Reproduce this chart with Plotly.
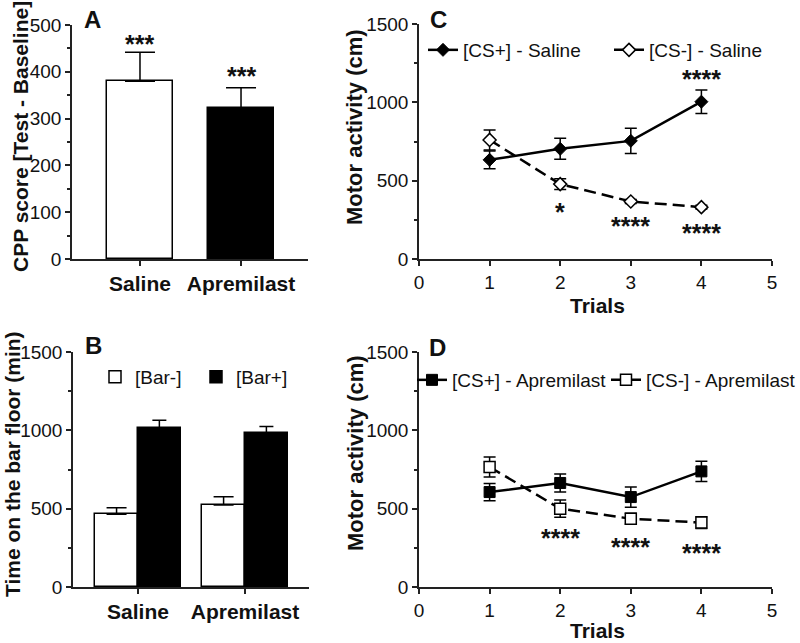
import plotly.graph_objects as go

# ---------------- data ----------------
groups = ["Saline", "Apremilast"]
cpp_mean = [380, 322]
cpp_sem = [62, 44]

bar_minus_mean = [465, 523]
bar_minus_sem = [41, 53]
bar_plus_mean = [1013, 981]
bar_plus_sem = [52, 43]

trials = [1, 2, 3, 4]
cs_plus_saline = [633, 703, 754, 1004]
cs_plus_saline_sem = [57, 67, 81, 75]
cs_minus_saline = [760, 478, 367, 331]
cs_minus_saline_sem = [64, 35, 12, 12]

cs_plus_apr = [606, 664, 574, 738]
cs_plus_apr_sem = [55, 58, 65, 65]
cs_minus_apr = [766, 500, 436, 411]
cs_minus_apr_sem = [64, 55, 34, 37]

W, H = 800, 643
FONT = "Liberation Sans, Arial, sans-serif"
INK = "#111111"
AX = "#222222"


def px(x):
    return x / W


def py(y):
    return 1 - y / H


fig = go.Figure()
gidx = list(range(len(groups)))

# ---------------- Panel A ----------------
fig.add_trace(go.Bar(
    x=gidx, y=cpp_mean, width=0.66,
    marker=dict(color=["white", "black"], line=dict(color="black", width=1.5)),
    error_y=dict(type="data", symmetric=False, array=cpp_sem, arrayminus=[0, 0],
                 color="black", thickness=1.5, width=15),
    showlegend=False, xaxis="x", yaxis="y"))

# ---------------- Panel B ----------------
fig.add_trace(go.Bar(
    x=gidx, y=bar_minus_mean, width=0.4, offset=-0.4, name="[Bar-]",
    marker=dict(color="white", line=dict(color="black", width=1.5)),
    error_y=dict(type="data", symmetric=False, array=bar_minus_sem, arrayminus=[0, 0],
                 color="black", thickness=1.5, width=10),
    legend="legend", xaxis="x2", yaxis="y2"))
fig.add_trace(go.Bar(
    x=gidx, y=bar_plus_mean, width=0.4, offset=0, name="[Bar+]",
    marker=dict(color="black", line=dict(color="black", width=1.5)),
    error_y=dict(type="data", symmetric=False, array=bar_plus_sem, arrayminus=[0, 0],
                 color="black", thickness=1.5, width=7),
    legend="legend2", xaxis="x2", yaxis="y2"))

# ---------------- Panel C ----------------
fig.add_trace(go.Scatter(
    x=trials, y=cs_minus_saline, mode="lines+markers", name="[CS-] - Saline",
    line=dict(color="black", width=2.5, dash="12px,6px"),
    marker=dict(symbol="diamond", size=10, color="white", line=dict(color="black", width=1.5)),
    error_y=dict(type="data", array=cs_minus_saline_sem, color="black", thickness=1.5, width=6),
    legend="legend4", xaxis="x3", yaxis="y3"))
fig.add_trace(go.Scatter(
    x=trials, y=cs_plus_saline, mode="lines+markers", name="[CS+] - Saline",
    line=dict(color="black", width=2.5),
    marker=dict(symbol="diamond", size=10, color="black", line=dict(color="black", width=1)),
    error_y=dict(type="data", array=cs_plus_saline_sem, color="black", thickness=1.5, width=6),
    legend="legend3", xaxis="x3", yaxis="y3"))

# ---------------- Panel D ----------------
fig.add_trace(go.Scatter(
    x=trials, y=cs_minus_apr, mode="lines+markers", name="[CS-] - Apremilast",
    line=dict(color="black", width=2.5, dash="12px,6px"),
    marker=dict(symbol="square", size=11, color="white", line=dict(color="black", width=1.5)),
    error_y=dict(type="data", array=cs_minus_apr_sem, color="black", thickness=1.5, width=6),
    legend="legend6", xaxis="x4", yaxis="y4"))
fig.add_trace(go.Scatter(
    x=trials, y=cs_plus_apr, mode="lines+markers", name="[CS+] - Apremilast",
    line=dict(color="black", width=2.5),
    marker=dict(symbol="square", size=11, color="black", line=dict(color="black", width=1)),
    error_y=dict(type="data", array=cs_plus_apr_sem, color="black", thickness=1.5, width=6),
    legend="legend5", xaxis="x4", yaxis="y4"))

# ---------------- axes ----------------
tickfont = dict(family=FONT, size=19, color=INK)
common_ax = dict(showline=True, linecolor=AX, linewidth=1.5, ticks="outside",
                 ticklen=5, tickwidth=1.5, tickcolor=AX, showgrid=False,
                 zeroline=False, fixedrange=True, tickfont=tickfont, automargin=False)
cat_ticks = dict(tickmode="array", tickvals=gidx,
                 ticktext=["<b>%s</b>" % g for g in groups],
                 tickfont=dict(family=FONT, size=21, color=INK))

layout_axes = dict(
    xaxis=dict(common_ax, domain=[px(72), px(308)], range=[-0.673, 1.663],
               anchor="y", **cat_ticks),
    yaxis=dict(common_ax, domain=[py(259), py(25)], range=[0, 500], dtick=100,
               anchor="x", minor=dict(ticks="outside", ticklen=3, dtick=50, tickcolor=AX)),
    xaxis2=dict(common_ax, domain=[px(73), px(309)], range=[-0.607, 1.598],
                anchor="y2", **cat_ticks),
    yaxis2=dict(common_ax, domain=[py(587), py(352)], range=[0, 1500], dtick=500,
                anchor="x2", minor=dict(ticks="outside", ticklen=3, dtick=250, tickcolor=AX)),
    xaxis3=dict(common_ax, domain=[px(419), px(772)], range=[0, 5], dtick=1, anchor="y3"),
    yaxis3=dict(common_ax, domain=[py(259), py(24)], range=[0, 1500], dtick=500,
                anchor="x3", minor=dict(ticks="outside", ticklen=3, dtick=250, tickcolor=AX)),
    xaxis4=dict(common_ax, domain=[px(419), px(772)], range=[0, 5], dtick=1, anchor="y4"),
    yaxis4=dict(common_ax, domain=[py(587), py(352)], range=[0, 1500], dtick=500,
                anchor="x4", minor=dict(ticks="outside", ticklen=3, dtick=250, tickcolor=AX)),
)

# ---------------- legends ----------------
def leg(xp, yp):
    return dict(x=px(xp), y=py(yp), xanchor="left", yanchor="middle",
                xref="paper", yref="paper", bgcolor="rgba(0,0,0,0)",
                font=dict(family=FONT, size=19, color=INK), itemwidth=30,
                orientation="h")

legends = dict(
    legend=leg(95, 377), legend2=leg(196, 377),
    legend3=leg(423, 50), legend4=leg(609, 50),
    legend5=leg(412, 380), legend6=leg(606, 380),
)

# ---------------- annotations ----------------
ann = []
def txt(text, x, y, xref, yref, size, angle=0, bold=True):
    t = "<b>%s</b>" % text if bold else text
    ann.append(dict(text=t, x=x, y=y, xref=xref, yref=yref, showarrow=False,
                    textangle=angle, xanchor="center", yanchor="middle",
                    font=dict(family=FONT, size=size, color=INK)))

# panel letters
txt("A", px(92), py(20), "paper", "paper", 24)
txt("B", px(93), py(346), "paper", "paper", 24)
txt("C", px(438), py(20), "paper", "paper", 24)
txt("D", px(437), py(347), "paper", "paper", 24)

# axis titles
txt("CPP score [Test - Baseline]", px(20), py(137), "paper", "paper", 21, -90)
txt("Time on the bar floor (min)", px(12), py(464), "paper", "paper", 21, -90)
txt("Motor activity (cm)", px(355), py(127), "paper", "paper", 22, -90)
txt("Motor activity (cm)", px(355), py(453), "paper", "paper", 22, -90)
txt("Trials", px(597), py(305), "paper", "paper", 21)
txt("Trials", px(597), py(630), "paper", "paper", 21)

# significance stars (text positions in data units)
txt("***", 0, 460, "x", "y", 25)
txt("***", 1, 390, "x", "y", 25)
txt("****", 4, 1150, "x3", "y3", 25)
txt("*", 2, 300, "x3", "y3", 25)
txt("****", 3, 210, "x3", "y3", 25)
txt("****", 4, 168, "x3", "y3", 25)
txt("****", 2, 315, "x4", "y4", 25)
txt("****", 3, 257, "x4", "y4", 25)
txt("****", 4, 219, "x4", "y4", 25)

fig.update_layout(
    width=W, height=H, margin=dict(l=0, r=0, t=0, b=0, autoexpand=False),
    paper_bgcolor="white", plot_bgcolor="white",
    font=dict(family=FONT, color=INK),
    annotations=ann, bargap=0, **layout_axes, **legends,
)

fig.write_html("out.html", config={"displayModeBar": False},
               post_script="document.body.style.margin='0';")
